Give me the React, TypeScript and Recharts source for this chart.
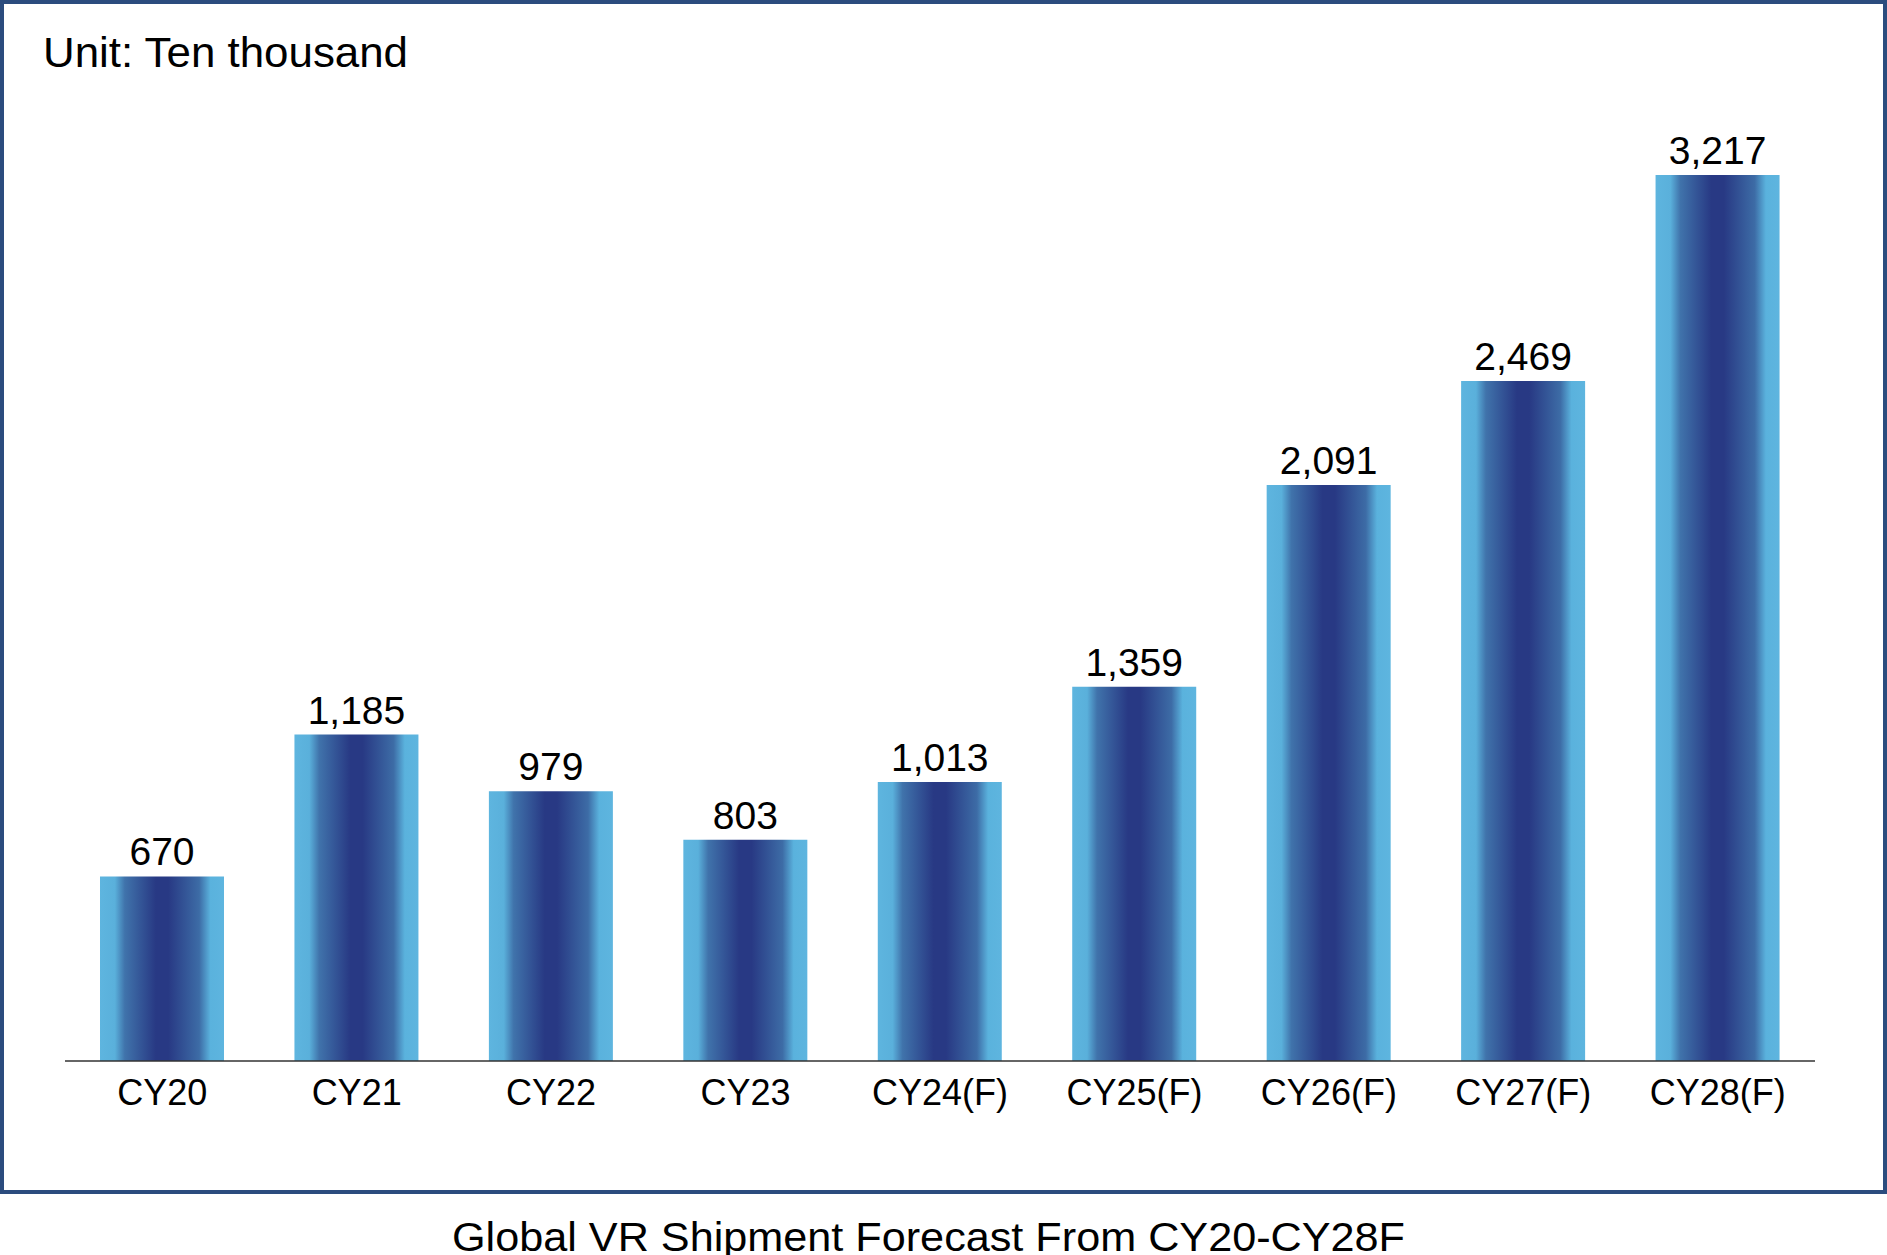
import React from 'react';
import { BarChart, Bar, XAxis, YAxis, LabelList } from 'recharts';

const categories = ['CY20', 'CY21', 'CY22', 'CY23', 'CY24(F)', 'CY25(F)', 'CY26(F)', 'CY27(F)', 'CY28(F)'];
const shipments = [670, 1185, 979, 803, 1013, 1359, 2091, 2469, 3217];
const unitLabel = 'Unit: Ten thousand';
const chartTitle = 'Global VR Shipment Forecast From CY20-CY28F';

const data = categories.map((c, i) => ({ name: c, value: shipments[i] }));

const FONT = '"Liberation Sans", Arial, Helvetica, sans-serif';

const CategoryTick = (props: any) => {
  const { x, y, payload } = props;
  return (
    <text x={x} y={y + 44} textAnchor="middle" fontFamily={FONT} fontSize={36} fill="#000">
      {payload.value}
    </text>
  );
};

const ValueLabel = (props: any) => {
  const { x, y, width, value } = props;
  return (
    <text x={x + width / 2} y={y - 11} textAnchor="middle" fontFamily={FONT} fontSize={39} fill="#000">
      {Number(value).toLocaleString('en-US')}
    </text>
  );
};

export default function App() {
  return (
    <div style={{ position: 'absolute', left: 0, top: 0, width: 1887, height: 1255, background: '#fff', overflow: 'hidden' }}>
      <div style={{ position: 'absolute', left: 0, top: 0, width: 1887, height: 1194 }}>
        <BarChart
          width={1887}
          height={1194}
          data={data}
          margin={{ top: 97, right: 72, bottom: 73, left: 65 }}
        >
          <defs>
            <linearGradient id="barGrad" x1="0" y1="0" x2="1" y2="0">
              <stop offset="0%" stopColor="#5EB5DF" />
              <stop offset="12%" stopColor="#5AB0DB" />
              <stop offset="20%" stopColor="#4073AB" />
              <stop offset="45%" stopColor="#283984" />
              <stop offset="55%" stopColor="#283984" />
              <stop offset="80%" stopColor="#3D6CA6" />
              <stop offset="89%" stopColor="#5AB2DD" />
              <stop offset="100%" stopColor="#5EB5DF" />
            </linearGradient>
          </defs>
          <XAxis
            dataKey="name"
            height={60}
            tickLine={false}
            tickSize={0}
            tickMargin={0}
            axisLine={{ stroke: '#333', strokeWidth: 1.5 }}
            tick={<CategoryTick />}
            interval={0}
          />
          <YAxis hide domain={[0, 3500]} />
          <Bar dataKey="value" fill="url(#barGrad)" barSize={124} isAnimationActive={false}>
            <LabelList dataKey="value" content={<ValueLabel />} />
          </Bar>
        </BarChart>
        <svg width={1887} height={1194} style={{ position: 'absolute', left: 0, top: 0, pointerEvents: 'none' }}>
          <text x={43} y={67} fontFamily={FONT} fontSize={43} fill="#000" textLength={365} lengthAdjust="spacingAndGlyphs">{unitLabel}</text>
        </svg>
        <div style={{ position: 'absolute', left: 0, top: 0, width: 1887, height: 1194, boxSizing: 'border-box', border: '4px solid #2B4C7E', pointerEvents: 'none' }} />
      </div>
      <svg width={1887} height={1255} style={{ position: 'absolute', left: 0, top: 0, pointerEvents: 'none' }}>
        <text x={452} y={1251} fontFamily={FONT} fontSize={40} fill="#000" textLength={953} lengthAdjust="spacingAndGlyphs">{chartTitle}</text>
      </svg>
    </div>
  );
}
